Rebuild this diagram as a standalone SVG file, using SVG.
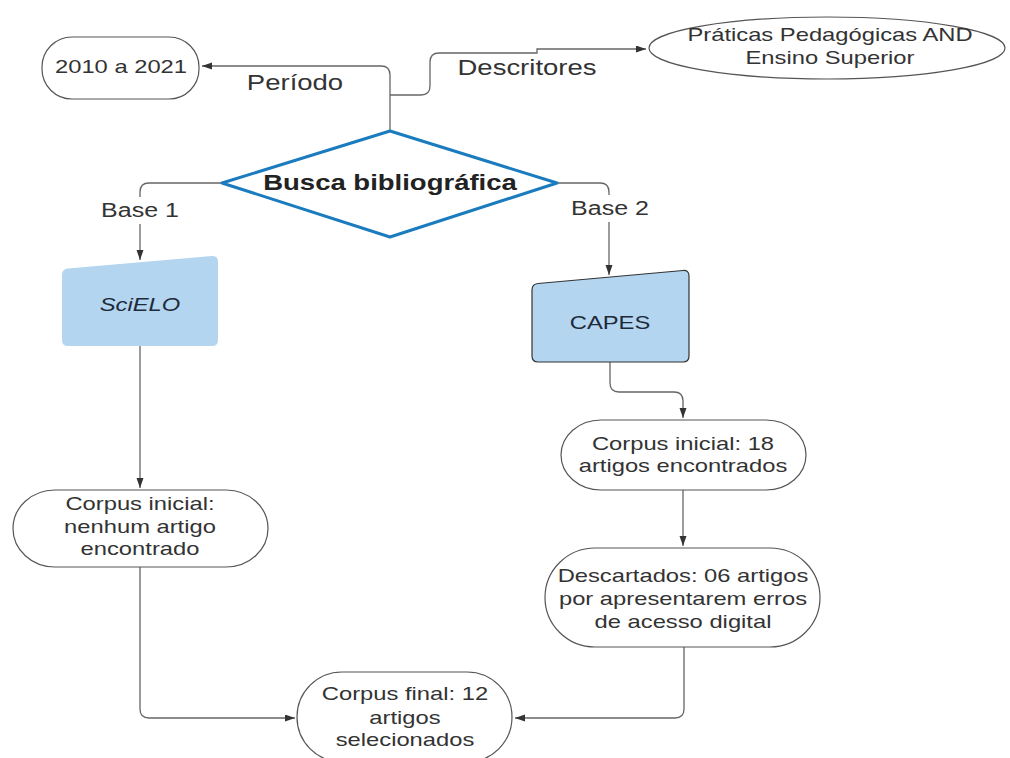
<svg xmlns="http://www.w3.org/2000/svg" width="1010" height="758" viewBox="0 0 1010 758">
<style>
.t{font-family:"Liberation Sans",Arial,sans-serif;font-size:19px;fill:#333;text-anchor:middle}
.lbl{font-size:22px}
.base{font-size:20px}
.b{font-weight:bold;font-size:22px;fill:#222}
.term{fill:#fff;stroke:#555;stroke-width:1.2}
.c{fill:none;stroke:#666;stroke-width:1.3}
</style>
<defs>
<marker id="ah" markerUnits="userSpaceOnUse" markerWidth="11" markerHeight="8" refX="10" refY="3.5" orient="auto">
<path d="M0,0 L10,3.5 L0,7 z" fill="#333"/>
</marker>
</defs>
<rect width="1010" height="758" fill="#fff"/>
<g id="connectors">
<path class="c" d="M390,131 V75 Q390,66 381,66 H202" marker-end="url(#ah)"/>
<path class="c" d="M390,95 H421 Q430,95 430,86 V62 Q430,53 439,53 H537 V49 H646" marker-end="url(#ah)"/>
<path class="c" d="M222,183 H149 Q140,183 140,192 V197"/>
<path class="c" d="M140,224 V260" marker-end="url(#ah)"/>
<path class="c" d="M557,183 H600 Q609,183 609,192 V195"/>
<path class="c" d="M609,222 V275" marker-end="url(#ah)"/>
<path class="c" d="M140,346 V488" marker-end="url(#ah)"/>
<path class="c" d="M610,362 V383 Q610,392 619,392 H674 Q683,392 683,401 V418" marker-end="url(#ah)"/>
<path class="c" d="M683,490 V546" marker-end="url(#ah)"/>
<path class="c" d="M140,567 V709 Q140,718 149,718 H295" marker-end="url(#ah)"/>
<path class="c" d="M684,647 V709 Q684,718 675,718 H515" marker-end="url(#ah)"/>
</g>
<g id="labels">
<text class="t lbl" transform="matrix(1.25 0 0 1 295 90)">Período</text>
<text class="t lbl" transform="matrix(1.25 0 0 1 527 75)">Descritores</text>
<text class="t base" transform="matrix(1.25 0 0 1 140 217)">Base 1</text>
<text class="t base" transform="matrix(1.25 0 0 1 610 215)">Base 2</text>
</g>
<g id="periodo">
<rect class="term" x="42" y="37" width="157" height="62" rx="30" ry="30"/>
<text class="t" transform="matrix(1.25 0 0 1 121 73)">2010 a 2021</text>
</g>
<g id="descritores">
<ellipse class="term" cx="827" cy="48" rx="178" ry="31"/>
<text class="t" transform="matrix(1.25 0 0 1 830 41)"><tspan x="0" y="0">Práticas Pedagógicas AND</tspan><tspan x="0" y="23">Ensino Superior</tspan></text>
</g>
<g id="busca">
<polygon points="390,131 557,183 390,237 222,183" fill="#fff" stroke="#1a7bbf" stroke-width="3" stroke-linejoin="round"/>
<text class="t b" transform="matrix(1.25 0 0 1 390 190)">Busca bibliográfica</text>
</g>
<g id="scielo">
<path d="M62,275 Q62,269 68,268.5 L212,256 Q218,255.5 218,262 V340 Q218,346 212,346 H68 Q62,346 62,340 Z" fill="#b3d5f0"/>
<text class="t" font-style="italic" fill="#1e2a3a" transform="matrix(1.25 0 0 1 140 311)" style="fill:#1e2a3a">SciELO</text>
</g>
<g id="capes">
<path d="M532,290 Q532,284 538,283.5 L683,270.5 Q689,270 689,276 V356 Q689,362 683,362 H538 Q532,362 532,356 Z" fill="#b3d5f0" stroke="#333" stroke-width="1.2"/>
<text class="t" transform="matrix(1.25 0 0 1 610 329)" style="fill:#1e2a3a">CAPES</text>
</g>
<g id="corpus-scielo">
<path class="term" d="M55,490 H226 A42,38.5 0 0 1 226,567 H55 A42,38.5 0 0 1 55,490 Z"/>
<text class="t" transform="matrix(1.25 0 0 1 140 510)"><tspan x="0" y="0">Corpus inicial:</tspan><tspan x="0" y="23">nenhum artigo</tspan><tspan x="0" y="45">encontrado</tspan></text>
</g>
<g id="corpus-capes">
<path class="term" d="M601,420 H766 A40,35 0 0 1 766,490 H601 A40,35 0 0 1 601,420 Z"/>
<text class="t" transform="matrix(1.25 0 0 1 683 450)"><tspan x="0" y="0">Corpus inicial: 18</tspan><tspan x="0" y="22">artigos encontrados</tspan></text>
</g>
<g id="descartados">
<path class="term" d="M595,548 H770 A50,49.5 0 0 1 770,647 H595 A50,49.5 0 0 1 595,548 Z"/>
<text class="t" transform="matrix(1.25 0 0 1 683 582)"><tspan x="0" y="0">Descartados: 06 artigos</tspan><tspan x="0" y="23">por apresentarem erros</tspan><tspan x="0" y="46">de acesso digital</tspan></text>
</g>
<g id="corpus-final">
<path class="term" d="M342,672 H467 A45,45 0 0 1 467,762 H342 A45,45 0 0 1 342,672 Z"/>
<text class="t" transform="matrix(1.25 0 0 1 405 700)"><tspan x="0" y="0">Corpus final: 12</tspan><tspan x="0" y="24">artigos</tspan><tspan x="0" y="46">selecionados</tspan></text>
</g>
</svg>
